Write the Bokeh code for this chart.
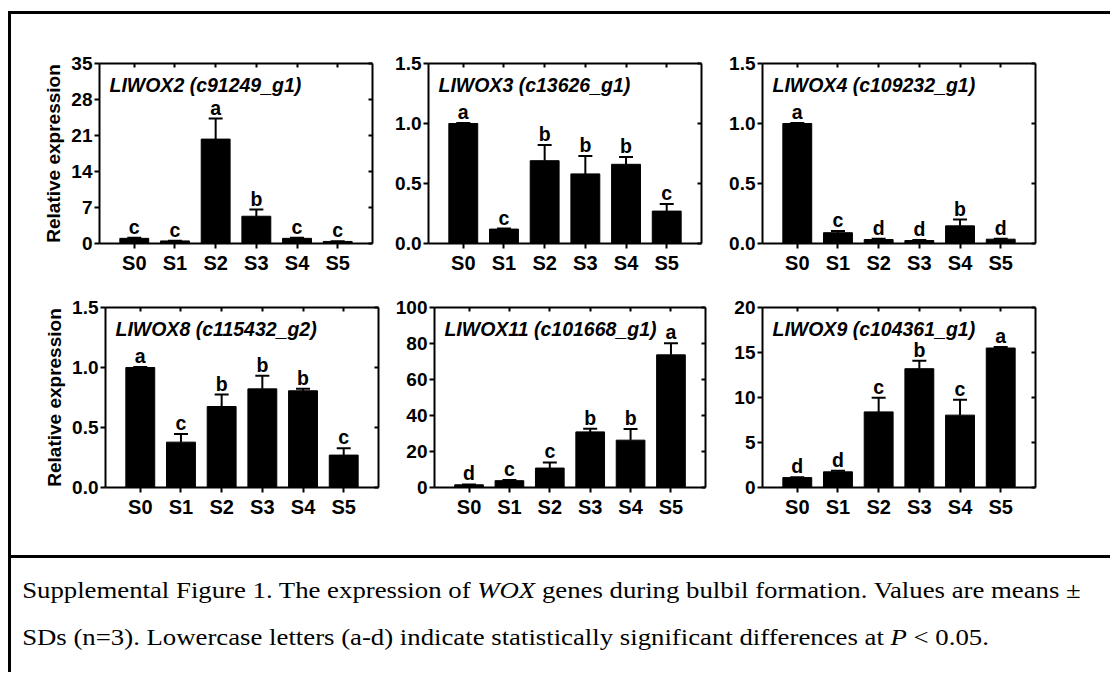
from bokeh.plotting import figure
from bokeh.layouts import row, column
from bokeh.models import (FactorRange, Range1d, FixedTicker, ColumnDataSource, Whisker, Spacer,
                          TeeHead, Label, LinearAxis, CategoricalAxis, CustomJSTickFormatter, Div,
                          PrintfTickFormatter)
from bokeh.core.properties import value
from bokeh.embed import file_html
from bokeh.resources import INLINE

# ---------------- data ----------------
stages = ["S0", "S1", "S2", "S3", "S4", "S5"]

wox2_mean = [1.0, 0.5, 20.3, 5.3, 1.0, 0.4]
wox2_sd = [0.1, 0.05, 4.0, 1.3, 0.1, 0.05]
wox2_letters = ["c", "c", "a", "b", "c", "c"]

wox3_mean = [1.0, 0.12, 0.69, 0.58, 0.66, 0.27]
wox3_sd = [0.005, 0.005, 0.13, 0.15, 0.06, 0.06]
wox3_letters = ["a", "c", "b", "b", "b", "c"]

wox4_mean = [1.0, 0.09, 0.033, 0.025, 0.147, 0.036]
wox4_sd = [0.005, 0.015, 0.006, 0.004, 0.053, 0.004]
wox4_letters = ["a", "c", "d", "d", "b", "d"]

wox8_mean = [1.0, 0.378, 0.675, 0.822, 0.806, 0.27]
wox8_sd = [0.005, 0.067, 0.1, 0.11, 0.016, 0.058]
wox8_letters = ["a", "c", "b", "b", "b", "c"]

wox11_mean = [1.5, 3.8, 10.8, 30.9, 26.3, 73.7]
wox11_sd = [0.2, 0.4, 3.1, 1.8, 6.2, 6.4]
wox11_letters = ["d", "c", "c", "b", "b", "a"]

wox9_mean = [1.1, 1.74, 8.4, 13.2, 8.04, 15.5]
wox9_sd = [0.05, 0.11, 1.56, 0.87, 1.7, 0.1]
wox9_letters = ["d", "d", "c", "b", "c", "a"]

titles = ["LIWOX2 (c91249_g1)", "LIWOX3 (c13626_g1)", "LIWOX4 (c109232_g1)",
          "LIWOX8 (c115432_g2)", "LIWOX11 (c101668_g1)", "LIWOX9 (c104361_g1)"]
y_ticks = [[0, 7, 14, 21, 28, 35], [0, 0.5, 1.0, 1.5], [0, 0.5, 1.0, 1.5],
           [0, 0.5, 1.0, 1.5], [0, 20, 40, 60, 80, 100], [0, 5, 10, 15, 20]]
y_formats = ["%d", "%.1f", "%.1f", "%.1f", "%d", "%d"]
y_label = "Relative expression"
caption_html = ("Supplemental Figure 1. The expression of <i>WOX</i> genes during bulbil formation. "
                "Values are means &plusmn;<br>SDs (n=3). Lowercase letters (a-d) indicate statistically "
                "significant differences at <i>P</i> &lt; 0.05.")

FONT = "Liberation Sans"


def panel(title, means, sds, letters, ticks, fmt, width, height, bl, br, bt, bb, ylab=None):
    src = ColumnDataSource(dict(x=stages, top=means,
                                upper=[m + s for m, s in zip(means, sds)],
                                letter=letters))
    p = figure(width=width, height=height,
               x_range=FactorRange(factors=stages, range_padding=0.355, range_padding_units="absolute"),
               y_range=Range1d(0, ticks[-1]),
               output_backend="svg", toolbar_location=None,
               min_border_left=bl, min_border_right=br, min_border_top=bt, min_border_bottom=bb)
    p.outline_line_color = None
    p.background_fill_color = "white"
    p.border_fill_color = "white"
    p.xgrid.visible = False
    p.ygrid.visible = False

    p.vbar(x="x", top="top", width=0.71, source=src, fill_color="black", line_color="black")
    w = Whisker(base="x", upper="upper", lower="top", source=src, dimension="height",
                line_color="black", line_width=2,
                upper_head=TeeHead(size=14, line_color="black", line_width=2), lower_head=None)
    p.add_layout(w)
    p.text(x="x", y="upper", text="letter", source=src, text_align="center",
           text_baseline="alphabetic", y_offset=-11, text_font=value(FONT),
           text_font_style="bold", text_font_size="19.5px", text_color="black")

    p.add_layout(Label(x=-0.11, y=ticks[-1], y_offset=-21, text=title, text_font=FONT,
                       text_font_style="bold italic", text_font_size="19.5px",
                       text_color="black", text_baseline="alphabetic"))

    # left axis
    ya = p.yaxis[0]
    ya.ticker = FixedTicker(ticks=ticks)
    ya.formatter = PrintfTickFormatter(format=fmt)
    ya.axis_line_width = 2
    ya.major_tick_line_width = 2
    ya.major_tick_out = 5
    ya.major_tick_in = 0
    ya.minor_tick_line_color = None
    ya.major_label_text_font = FONT
    ya.major_label_text_font_style = "bold"
    ya.major_label_text_font_size = "19px"
    ya.major_label_text_color = "black"
    ya.major_label_standoff = 2
    if ylab:
        ya.axis_label = ylab
        ya.axis_label_text_font = FONT
        ya.axis_label_text_font_style = "bold"
        ya.axis_label_text_font_size = "19px"
        ya.axis_label_text_color = "black"
        ya.axis_label_standoff = 4
    # bottom axis
    xa = p.xaxis[0]
    xa.axis_line_width = 2
    xa.major_tick_line_width = 2
    xa.major_tick_out = 5
    xa.major_tick_in = 0
    xa.major_label_text_font = FONT
    xa.major_label_text_font_style = "bold"
    xa.major_label_text_font_size = "20px"
    xa.major_label_text_color = "black"
    xa.major_label_standoff = 3

    blank = CustomJSTickFormatter(code="return ''")
    ra = LinearAxis(ticker=FixedTicker(ticks=ticks), formatter=blank, axis_line_width=2,
                    major_tick_line_width=2, major_tick_in=4, major_tick_out=0,
                    minor_tick_line_color=None, major_label_standoff=0,
                    major_label_text_font_size="1px")
    p.add_layout(ra, "right")
    ta = CategoricalAxis(formatter=blank, axis_line_width=2, major_tick_line_width=2,
                         major_tick_in=4, major_tick_out=0, major_label_standoff=0,
                         major_label_text_font_size="1px")
    p.add_layout(ta, "above")
    return p


p1 = panel(titles[0], wox2_mean, wox2_sd, wox2_letters, y_ticks[0], y_formats[0], 381, 265, 88, 20, 49, 36, y_label)
p2 = panel(titles[1], wox3_mean, wox3_sd, wox3_letters, y_ticks[1], y_formats[1], 334, 265, 36, 25, 49, 36)
p3 = panel(titles[2], wox4_mean, wox4_sd, wox4_letters, y_ticks[2], y_formats[2], 376, 265, 36, 67, 49, 36)
p4 = panel(titles[3], wox8_mean, wox8_sd, wox8_letters, y_ticks[3], y_formats[3], 381, 276, 94, 14, 28, 68, y_label)
p5 = panel(titles[4], wox11_mean, wox11_sd, wox11_letters, y_ticks[4], y_formats[4], 335, 276, 40, 22, 28, 68)
p6 = panel(titles[5], wox9_mean, wox9_sd, wox9_letters, y_ticks[5], y_formats[5], 375, 276, 35, 67, 28, 68)

BLACK = {"background-color": "black", "margin": "0", "padding": "0"}
top_gap = Spacer(width=1110, height=11)
topline = row(Spacer(width=8, height=3), Spacer(width=1102, height=3, styles=BLACK))
leftline = Spacer(width=3, height=658, styles=BLACK)
divider = Spacer(width=1099, height=3, styles=BLACK)
caption = Div(text=('<div style="font-family:\'Liberation Serif\';font-size:24px;line-height:47px;'
                    'margin:0;padding:9px 0 0 10px;white-space:nowrap;color:black;'
                    'transform:scaleX(1.115);transform-origin:0 0;">' + caption_html + '</div>'),
              width=1099, height=114, styles={"margin": "0", "padding": "0"})

layout = column(top_gap, topline,
                row(Spacer(width=8, height=658), leftline,
                    column(row(p1, p2, p3), row(p4, p5, p6), divider, caption)))

open("out.html", "w").write(file_html(layout, INLINE))
